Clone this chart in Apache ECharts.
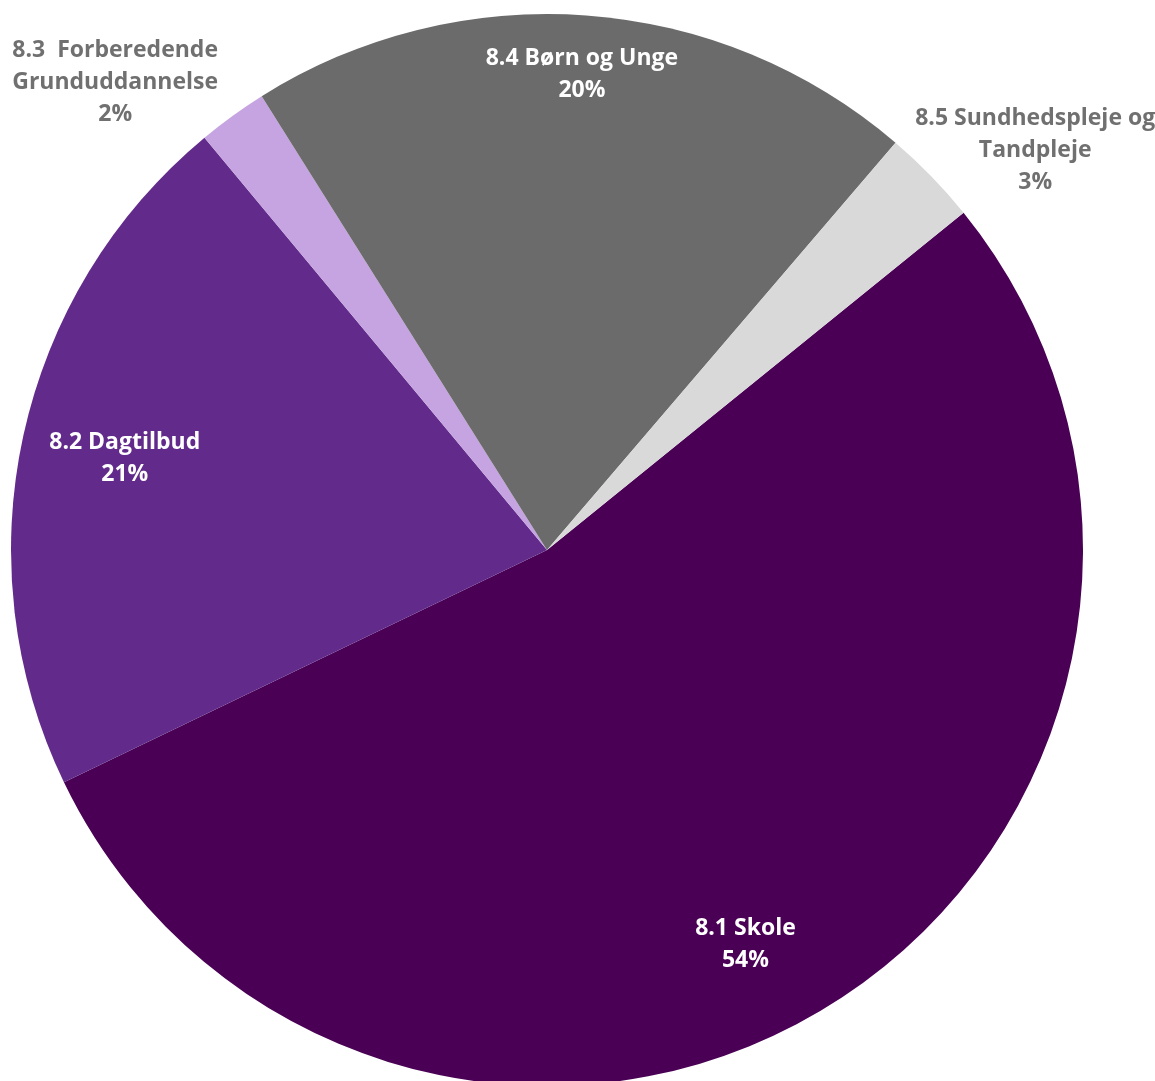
<!DOCTYPE html>
<html>
<head>
<meta charset="utf-8">
<style>
html,body{margin:0;padding:0;background:#fff;}
#chart{width:1155px;height:1081px;}
</style>
<script src="https://cdn.jsdelivr.net/npm/echarts@6/dist/echarts.min.js"></script>
</head>
<body>
<div id="chart"></div>
<script>
// Data
const categories = ['8.1 Skole', '8.2 Dagtilbud', '8.3  Forberedende\nGrunduddannelse', '8.4 Børn og Unge', '8.5 Sundhedspleje og\nTandpleje'];
const values = [53.7, 21.1, 2.1, 20.2, 2.9];
const percentLabels = ['54%', '21%', '2%', '20%', '3%'];

// Styling
const colors = ['#4a0055', '#622a8b', '#c5a4e1', '#6b6b6b', '#d9d9d9'];
const labelColors = ['#ffffff', '#ffffff', '#707070', '#ffffff', '#707070'];
const labelPositions = ['inside', 'inside', 'outside', 'inside', 'outside'];
// label placement: angle (deg clockwise from 12 o'clock) and radius factor
const labelAngles = [153.3, 282.2, 317.3, 4.2, 50.7];
const labelRadius = [0.824, 0.806, 1.188, 0.889, 1.177];

const CX = 547, CY = 550, R = 536;

const chart = echarts.init(document.getElementById('chart'));
chart.setOption({
  animation: false,
  series: [{
    type: 'pie',
    center: [CX, CY],
    radius: [0, R],
    startAngle: 39,
    clockwise: true,
    avoidLabelOverlap: false,
    itemStyle: { borderWidth: 0 },
    emphasis: { disabled: true },
    data: categories.map((c, i) => ({
      name: c,
      value: values[i],
      itemStyle: { color: colors[i] },
      label: {
        show: true,
        position: labelPositions[i],
        color: labelColors[i],
        formatter: c + '\n' + percentLabels[i]
      },
      labelLine: { show: false }
    })),
    label: {
      fontFamily: '"Open Sans", sans-serif',
      fontWeight: 'bold',
      fontSize: 23,
      lineHeight: 32,
      align: 'center'
    },
    labelLayout: function (p) {
      const i = p.dataIndex;
      const a = labelAngles[i] * Math.PI / 180;
      const rr = labelRadius[i] * R;
      return {
        x: CX + rr * Math.sin(a),
        y: CY - rr * Math.cos(a),
        align: 'center',
        verticalAlign: 'middle'
      };
    }
  }]
});
</script>
</body>
</html>
